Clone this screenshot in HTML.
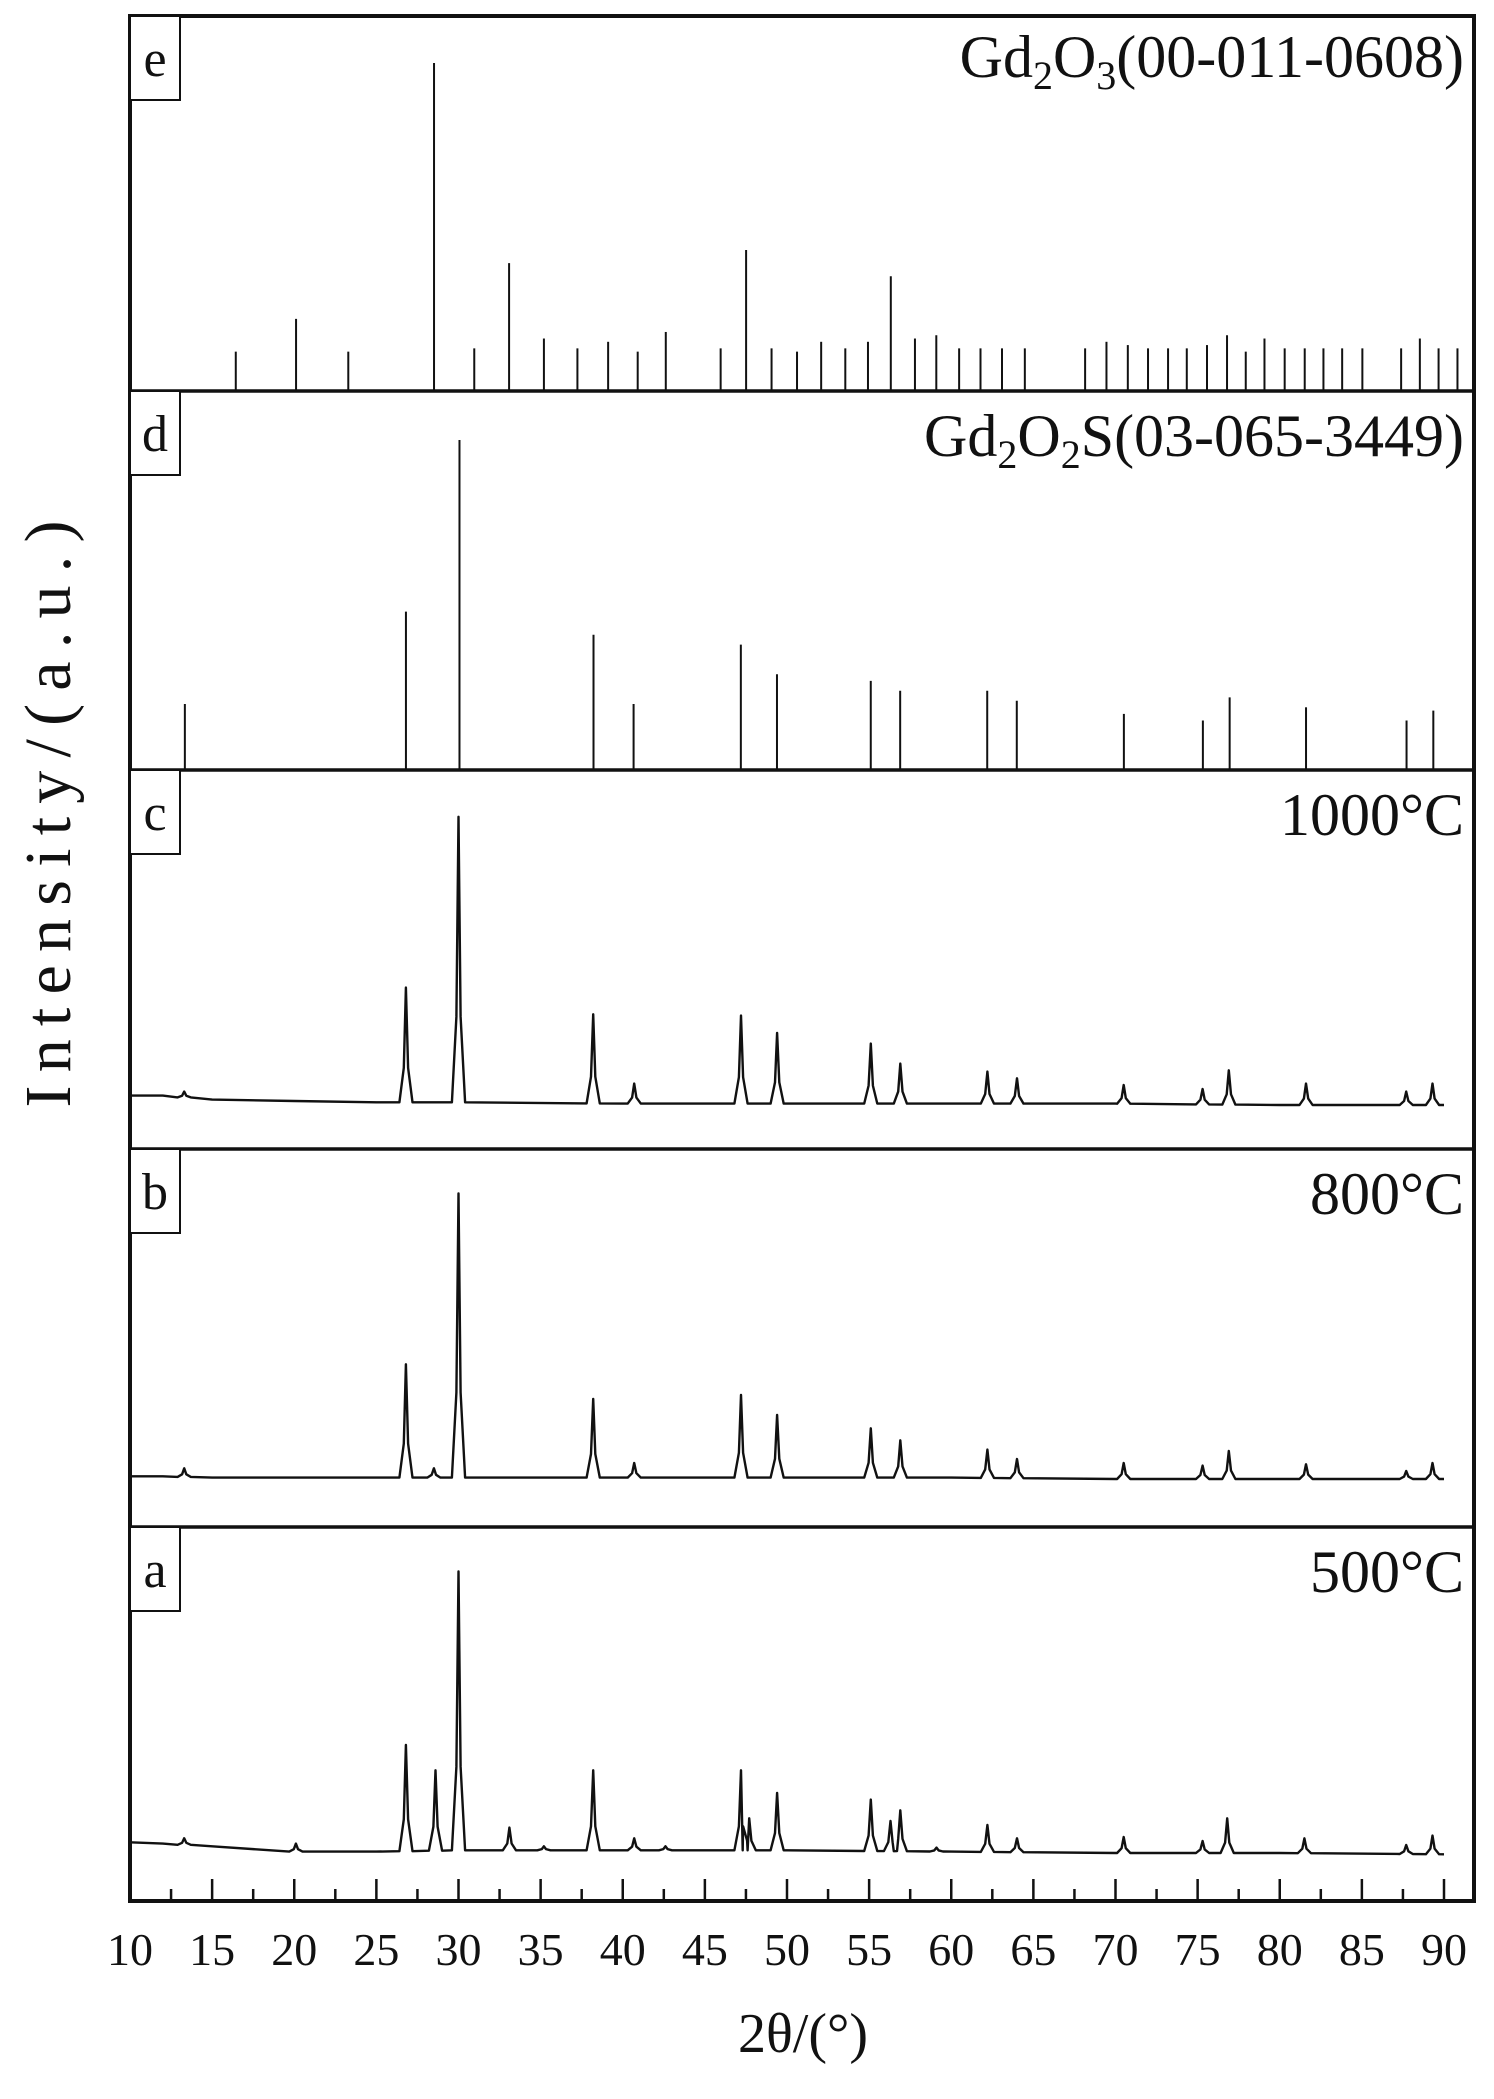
<!DOCTYPE html>
<html><head><meta charset="utf-8"><title>XRD patterns</title>
<style>html,body{margin:0;padding:0;background:#fff}svg{display:block}</style></head>
<body>
<svg id="chart" xmlns="http://www.w3.org/2000/svg" width="1494" height="2099" viewBox="0 0 1494 2099" font-family="'Liberation Serif', serif">
<g id="marks"></g>
<g id="frame"></g>
<g id="labels"></g>
</svg>
<script>
// ---- data (2θ in degrees, intensity a.u.) ----
const xTicks = [10,15,20,25,30,35,40,45,50,55,60,65,70,75,80,85,90];
const gd2o3Pos = [16.44,20.11,23.29,28.51,30.96,33.08,35.2,37.24,39.11,40.91,42.62,45.96,47.51,49.06,50.61,52.08,53.55,54.93,56.32,57.79,59.09,60.48,61.78,63.09,64.48,68.15,69.45,70.75,71.98,73.2,74.34,75.57,76.79,77.93,79.07,80.3,81.52,82.66,83.8,85.03,87.39,88.53,89.67,90.82];
const gd2o3Int = [12,22,12,100,13,39,16,13,15,12,18,13,43,13,12,15,13,15,35,16,17,13,13,13,13,13,15,14,13,13,13,14,17,12,16,13,13,13,13,13,13,16,13,13];
const gd2o2sPos = [13.34,26.8,30.06,38.22,40.66,47.19,49.39,55.1,56.89,62.19,63.99,70.51,75.32,76.95,81.6,87.72,89.35];
const gd2o2sInt = [20,48,100,41,20,38,29,27,24,24,21,17,15,22,19,15,18];
// pattern c (1000°C)
const cPeakPos = [13.3,26.8,30.0,38.2,40.7,47.2,49.4,55.1,56.9,62.2,64.0,70.5,75.3,76.9,81.6,87.7,89.3];
const cPeakInt = [43,121,249,101,49,100,87,79,64,58,53,48,45,59,49,43,49];
const cBaseX = [10,12,15,20,25,30,40,50,60,70,80,90];
const cBaseY = [40,40,37,36,35,35,34,34,34,34,33,33];
// pattern b (800°C)
const bPeakPos = [13.3,26.8,28.5,30.0,38.2,40.7,47.2,49.4,55.1,56.9,62.2,64.0,70.5,75.3,76.9,81.6,87.7,89.3];
const bPeakInt = [44,122,44,250,96,48,99,84,74,65,58,51,48,46,57,47,42,48];
const bBaseX = [10,12,15,20,25,30,40,50,60,70,80,90];
const bBaseY = [38,38,37,37,37,37,37,37,37,36,36,36];
// pattern a (500°C)
const aPeakPos = [13.3,20.1,26.8,28.6,30.0,33.1,35.2,38.2,40.7,42.6,47.2,47.7,49.4,55.1,56.3,56.9,59.1,62.2,64.0,70.5,75.3,76.8,81.5,87.7,89.3];
const aPeakInt = [47,43,117,98,247,55,41,98,47,41,98,62,81,76,60,68,40,57,47,48,45,62,47,42,49];
const aBaseX = [10,12,15,20,25,30,40,50,60,70,80,90];
const aBaseY = [44,43,41,37,37,38,38,38,37,36,36,35];

// ---- layout ----
const NS = "http://www.w3.org/2000/svg";
const L = 130, R = 1474;
const panels = {e:[16,391], d:[391,770], c:[770,1149], b:[1149,1527], a:[1527,1901]};
function xs(t){ return L + (t - 10) * (1444 - 130) / 80; }
function mk(tag, attrs, parent){ const el = document.createElementNS(NS, tag); for (const k in attrs) el.setAttribute(k, attrs[k]); parent.appendChild(el); return el; }
const marks = document.getElementById('marks');
const frame = document.getElementById('frame');
const labels = document.getElementById('labels');

function drawSticks(pos, ints, bottom, fullPx, name){
  const g = mk('g', {}, marks);
  
  
  pos.forEach((p, i) => {
    const ln = mk('line', {x1:xs(p), x2:xs(p), y1:bottom, y2:bottom - ints[i] / 100 * fullPx, stroke:'#111', 'stroke-width':2}, g);
    
    
  });
}
function baseAt(bx, by, t){
  for (let i = 0; i < bx.length - 1; i++) if (t >= bx[i] && t <= bx[i+1]) return by[i] + (by[i+1] - by[i]) * (t - bx[i]) / (bx[i+1] - bx[i]);
  return by[by.length - 1];
}
function drawPattern(pos, ints, bx, by, bottom, name){
  const pts = [];
  bx.forEach((t, i) => { if (!pos.some(p => Math.abs(p - t) < 0.45)) pts.push([t, by[i]]); });
  pos.forEach((p, i) => {
    const b = baseAt(bx, by, p), h = ints[i];
    pts.push([p - 0.4, b], [p - 0.13, b + (h - b) * 0.3], [p, h], [p + 0.13, b + (h - b) * 0.3], [p + 0.4, b]);
  });
  pts.sort((u, v) => u[0] - v[0]);
  const d = pts.map((q, i) => (i ? 'L' : 'M') + xs(q[0]).toFixed(1) + ' ' + (bottom - q[1] * 1.334).toFixed(1)).join(' ');
  const path = mk('path', {d:d, fill:'none', stroke:'#111', 'stroke-width':2.4, 'stroke-linejoin':'round'}, marks);
  
  
}
drawSticks(gd2o3Pos, gd2o3Int, panels.e[1], 328, 'gd2o3-reference');
drawSticks(gd2o2sPos, gd2o2sInt, panels.d[1], 330, 'gd2o2s-reference');
drawPattern(cPeakPos, cPeakInt, cBaseX, cBaseY, panels.c[1], 'pattern-1000c');
drawPattern(bPeakPos, bPeakInt, bBaseX, bBaseY, panels.b[1], 'pattern-800c');
drawPattern(aPeakPos, aPeakInt, aBaseX, aBaseY, panels.a[1], 'pattern-500c');

// frame and dividers
const outer = mk('rect', {x:L, y:16, width:R - L, height:1901 - 16, fill:'none', stroke:'#111', 'stroke-width':4}, frame);


['d','c','b','a'].forEach(k => {
  const ln = mk('line', {x1:L, x2:R, y1:panels[k][0], y2:panels[k][0], stroke:'#111', 'stroke-width':3.5}, frame);
  
  
});
// ticks
for (let t = 12.5; t <= 90; t += 2.5) {
  const major = (t % 5 === 0);
  const tk = mk('line', {x1:xs(t), x2:xs(t), y1:1901, y2:1901 - (major ? 22 : 12), stroke:'#111', 'stroke-width':2.5}, frame);
  
  
}
xTicks.forEach(t => {
  const tx = mk('text', {x:xs(t), y:1965, 'font-size':46, 'text-anchor':'middle', fill:'#111'}, labels);
  tx.textContent = t;
  
  
});
// panel letter boxes
['e','d','c','b','a'].forEach(k => {
  const top = panels[k][0];
  const r = mk('rect', {x:L, y:top, width:50, height:84, fill:'#fff', stroke:'#111', 'stroke-width':2}, labels);
  
  
  const tx = mk('text', {x:L + 25, y:top + 60, 'font-size':52, 'text-anchor':'middle', fill:'#111'}, labels);
  tx.textContent = k;
  
  
});
</script>
<script>
(function(){
  const NS = "http://www.w3.org/2000/svg";
  const labels = document.getElementById('labels');
  function t(html, attrs, name){
    const el = document.createElementNS(NS, 'text');
    for (const k in attrs) el.setAttribute(k, attrs[k]);
    el.innerHTML = html;
    
    
    labels.appendChild(el);
  }
  t('Gd<tspan font-size="40" dy="12">2</tspan><tspan dy="-12">O</tspan><tspan font-size="40" dy="12">3</tspan><tspan dy="-12">(00-011-0608)</tspan>', {x:1464, y:77, 'font-size':60, 'text-anchor':'end', fill:'#111'}, 'gd2o3-label');
  t('Gd<tspan font-size="40" dy="12">2</tspan><tspan dy="-12">O</tspan><tspan font-size="40" dy="12">2</tspan><tspan dy="-12">S(03-065-3449)</tspan>', {x:1464, y:456, 'font-size':60, 'text-anchor':'end', fill:'#111'}, 'gd2o2s-label');
  t('1000°C', {x:1464, y:835, 'font-size':60, 'text-anchor':'end', fill:'#111'}, 'label-1000c');
  t('800°C', {x:1464, y:1214, 'font-size':60, 'text-anchor':'end', fill:'#111'}, 'label-800c');
  t('500°C', {x:1464, y:1592, 'font-size':60, 'text-anchor':'end', fill:'#111'}, 'label-500c');
  t('Intensity/(a.u.)', {x:0, y:0, 'font-size':66, 'text-anchor':'middle', fill:'#111', transform:'translate(70 814) rotate(-90)', textLength:587, lengthAdjust:'spacing'}, 'y-axis-title');
  t('2θ/(°)', {x:803, y:2052, 'font-size':56, 'text-anchor':'middle', fill:'#111'}, 'x-axis-title');
})();
</script>
</body></html>
